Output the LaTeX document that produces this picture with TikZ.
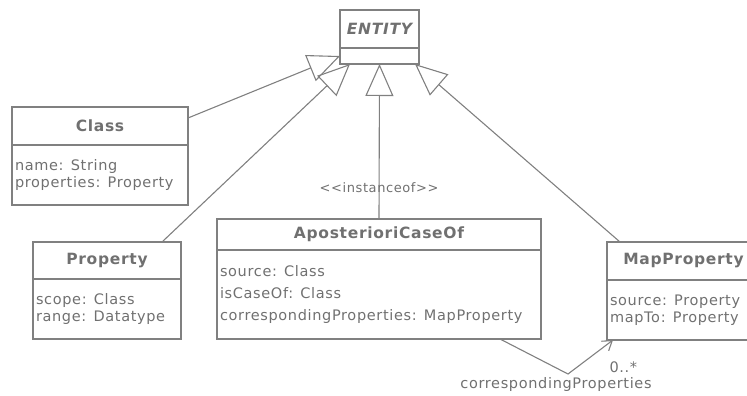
\documentclass[tikz,border=0pt]{standalone}
\usepackage{fontspec}
\setmainfont{DejaVu Sans}[LetterSpace=4.5]
\usetikzlibrary{arrows.meta,positioning}
\definecolor{umlline}{RGB}{128,128,128}
\definecolor{umltext}{RGB}{112,112,112}

\begin{document}
\begin{tikzpicture}[
    x=1pt, y=-1pt,
    font=\fontsize{14.5}{17}\selectfont,
    classhead/.style={
        draw=umlline,
        line width=1.1pt,
        text=umltext,
        font=\fontsize{15.5}{17}\selectfont\bfseries,
        inner sep=0pt,
        outer sep=0pt,
        anchor=north west
    },
    classbody/.style={
        draw=umlline,
        line width=1.1pt,
        text=umltext,
        align=left,
        inner xsep=3pt,
        inner ysep=0pt,
        outer sep=0pt
    },
    gen/.style={-{Triangle[open,length=32pt,width=28pt]}, draw=umlline, line width=1.1pt},
    assoc/.style={-{Straight Barb[length=9pt,width=12pt]}, draw=umlline, line width=1.1pt},
    lbl/.style={text=umltext, inner sep=1pt}
]
    \useasboundingbox (0,0) rectangle (747,396);

    \node[classhead, minimum width=79pt, minimum height=38pt, font=\fontsize{15.5}{17}\selectfont\bfseries\itshape] (entityhd) at (340,10) {ENTITY};
    \node[classbody, minimum width=79pt, minimum height=16pt, below=0pt of entityhd] (entitybody) {};

    \node[classhead, minimum width=176pt, minimum height=38pt] (classhd) at (12,107) {Class};
    \node[classbody, text width=170pt, minimum height=60pt, below=0pt of classhd] (classbody) {name: String\\properties: Property};

    \node[classhead, minimum width=148pt, minimum height=37pt] (prophd) at (33,242) {Property};
    \node[classbody, text width=142pt, minimum height=60pt, below=0pt of prophd] (propbody) {scope: Class\\range: Datatype};

    \node[classhead, minimum width=324pt, minimum height=31pt] (aposthd) at (217,219) {AposterioriCaseOf};
    \node[classbody, text width=318pt, minimum height=89pt, below=0pt of aposthd, font=\fontsize{14.5}{22}\selectfont] (apostbody) {source: Class\\isCaseOf: Class\\correspondingProperties: MapProperty};

    \node[classhead, minimum width=153pt, minimum height=38pt] (maphd) at (607,242) {MapProperty};
    \node[classbody, text width=147pt, minimum height=60pt, below=0pt of maphd] (mapbody) {source: Property\\mapTo: Property};

    \coordinate (assocbend) at (568,374);

    \draw[gen] ([yshift=8pt]classhd.east) -- (entitybody.west);
    \draw[gen] ([xshift=55pt]prophd.north) -- ([xshift=-29.5pt]entitybody.south);
    \draw[gen] (aposthd.north) -- node[lbl, pos=0.2, font=\fontsize{13}{15}\selectfont] {<{}<instanceof>{}>} (entitybody.south);
    \draw[gen] ([xshift=13pt]maphd.north west) -- ([xshift=35.5pt]entitybody.south);

    \draw[assoc] ([xshift=121pt]apostbody.south) -- (assocbend) -- ([xshift=6pt]mapbody.south west)
        node[lbl, below right, xshift=-5pt, yshift=-20pt] (mult) {0..*};
    \node[lbl, below=2pt of assocbend, xshift=-12pt] (rolename) {correspondingProperties};
\end{tikzpicture}
\end{document}
